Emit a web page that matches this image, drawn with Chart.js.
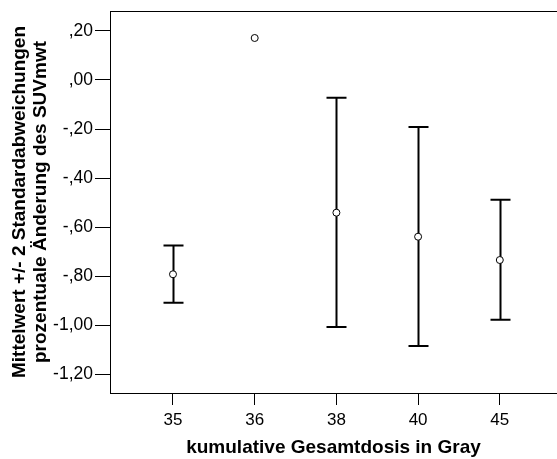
<!DOCTYPE html>
<html>
<head>
<meta charset="utf-8">
<script src="https://cdn.jsdelivr.net/npm/chart.js@4"></script>
<style>
  html, body { margin: 0; padding: 0; background: #fff; }
  #wrap { width: 557px; height: 459px; }
</style>
</head>
<body>
<div id="wrap"><canvas id="chart" width="557" height="459"></canvas></div>
<script>
// dose groups (Gy) and mean +/- 2 SD of relative SUVmwt change
const categories = ["35", "36", "38", "40", "45"];
const means = [-0.792, 0.171, -0.541, -0.639, -0.734];
const upper = [-0.675, null, -0.073, -0.192, -0.488];
const lower = [-0.908, null, -1.007, -1.084, -0.977];
const yTicks = [0.2, 0.0, -0.2, -0.4, -0.6, -0.8, -1.0, -1.2];

const FONT = "'Liberation Sans', Arial, sans-serif";

function fmtDe(v) {
  // SPSS style: ",20" / "-1,00"
  let s = Math.abs(v).toFixed(2).replace(".", ",");
  if (s.startsWith("0,")) s = s.slice(1);
  return (v < -1e-9 ? "-" : "") + s;
}

const errorBars = {
  id: "errorBars",
  beforeDatasetsDraw(chart) {
    const { ctx, scales: { x, y } } = chart;
    ctx.save();
    ctx.strokeStyle = "#000";
    ctx.lineWidth = 2;
    const half = 10;
    categories.forEach((c, i) => {
      if (upper[i] == null || lower[i] == null) return;
      const px = Math.round(x.getPixelForValue(i)) + 0.5;
      const yt = y.getPixelForValue(upper[i]);
      const yb = y.getPixelForValue(lower[i]);
      ctx.beginPath();
      ctx.moveTo(px, yt);
      ctx.lineTo(px, yb);
      ctx.moveTo(px - half, yt);
      ctx.lineTo(px + half, yt);
      ctx.moveTo(px - half, yb);
      ctx.lineTo(px + half, yb);
      ctx.stroke();
    });
    ctx.restore();
  },
  afterDraw(chart) {
    const { ctx, chartArea } = chart;
    ctx.save();
    ctx.strokeStyle = "#000";
    ctx.lineWidth = 1;
    ctx.beginPath();
    ctx.moveTo(chartArea.left, Math.round(chartArea.top) + 0.5);
    ctx.lineTo(chartArea.right, Math.round(chartArea.top) + 0.5);
    ctx.stroke();
    ctx.restore();
  }
};

new Chart(document.getElementById("chart"), {
  type: "scatter",
  data: {
    datasets: [{
      data: means.map((m, i) => ({ x: i, y: m })),
      pointStyle: "circle",
      pointRadius: 3.5,
      pointBorderColor: "#000",
      pointBackgroundColor: "#fff",
      pointBorderWidth: 1,
      showLine: false
    }]
  },
  options: {
    responsive: false,
    animation: false,
    layout: { autoPadding: false, padding: { top: 11, right: 0, left: 0, bottom: 0 } },
    plugins: { legend: { display: false }, tooltip: { enabled: false } },
    scales: {
      x: {
        type: "linear",
        min: -0.771,
        max: 4.70,
        afterBuildTicks(scale) {
          scale.ticks = categories.map((c, i) => ({ value: i }));
        },
        afterFit(scale) { scale.height = 66; scale.paddingLeft = 0; scale.paddingRight = 0; },
        grid: { drawOnChartArea: false, drawTicks: true, tickLength: 12, color: "#000", lineWidth: 1 },
        border: { display: true, color: "#000", width: 1 },
        ticks: {
          color: "#000",
          font: { family: FONT, size: 17 },
          padding: 5,
          maxRotation: 0,
          callback: (v) => categories[Math.round(v)]
        },
        title: {
          display: true,
          text: "kumulative Gesamtdosis in Gray",
          color: "#000",
          font: { family: FONT, size: 19, weight: "bold" },
          padding: { top: 4, bottom: 0 }
        }
      },
      y: {
        type: "linear",
        min: -1.276,
        max: 0.281,
        afterBuildTicks(scale) {
          scale.ticks = yTicks.map((v) => ({ value: v }));
        },
        afterFit(scale) { scale.width = 110; scale.paddingTop = 0; scale.paddingBottom = 0; },
        grid: { drawOnChartArea: false, drawTicks: true, tickLength: 15, color: "#000", lineWidth: 1 },
        border: { display: true, color: "#000", width: 1 },
        ticks: {
          color: "#000",
          font: { family: FONT, size: 17.5 },
          padding: 2,
          callback: (v) => fmtDe(v)
        },
        title: {
          display: true,
          text: ["Mittelwert +/- 2 Standardabweichungen", "prozentuale Änderung des SUVmwt"],
          color: "#000",
          font: { family: FONT, size: 19, weight: "bold", lineHeight: 1.1 },
          padding: { top: 9.5, bottom: 0 }
        }
      }
    }
  },
  plugins: [errorBars]
});
</script>
</body>
</html>
